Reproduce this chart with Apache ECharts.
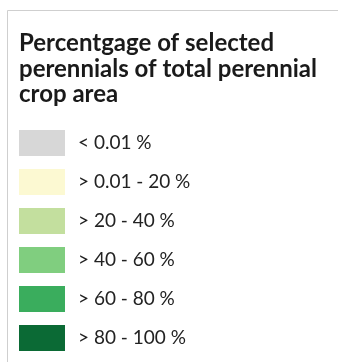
<!DOCTYPE html>
<html><head><meta charset="utf-8">
<script src="https://cdn.jsdelivr.net/npm/echarts@6/dist/echarts.min.js"></script>
<style>html,body{margin:0;padding:0;background:#fff}#c{width:338px;height:362px}</style>
</head><body><div id="c"></div>
<script>
const titleText = 'Percentgage of selected\nperennials of total perennial\ncrop area';
const categories = ['< 0.01 %', '> 0.01 - 20 %', '> 20 - 40 %', '> 40 - 60 %', '> 60 - 80 %', '> 80 - 100 %'];
const colors = ['#d7d7d7', '#fcf9d2', '#c3df9e', '#80ce7f', '#3aad5d', '#0b6a35'];

const chart = echarts.init(document.getElementById('c'), null, {renderer: 'canvas'});
chart.setOption({
  backgroundColor: '#fff',
  animation: false,
  title: {
    text: titleText, left: 14, top: 26,
    textStyle: {fontFamily: 'Lato', fontWeight: 'bold', fontSize: 24, lineHeight: 25.5, color: '#1a1a1a'}
  },
  graphic: [{type: 'rect', shape: {x: 7.5, y: 10.5, width: 400, height: 400}, style: {fill: 'none', stroke: '#cfcfcf', lineWidth: 1}}],
  grid: {show: false, left: 0, top: 0, width: 1, height: 1},
  xAxis: {show: false, type: 'category', data: ['a']},
  yAxis: {show: false, type: 'value'},
  legend: {
    orient: 'vertical', left: 19, top: 130, padding: 0,
    itemWidth: 46, itemHeight: 26, itemGap: 13, icon: 'rect',
    selectedMode: false,
    data: categories,
    textStyle: {fontFamily: 'Lato', fontSize: 19, color: '#222', padding: [0, 0, 0, 8]}
  },
  series: categories.map((c, i) => ({type: 'bar', name: c, data: [], itemStyle: {color: colors[i]}}))
});
</script></body></html>
